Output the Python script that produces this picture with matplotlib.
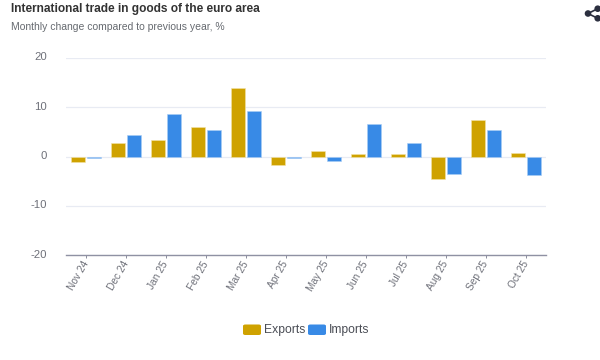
import matplotlib
matplotlib.use("Agg")
import matplotlib.pyplot as plt
import numpy as np
from matplotlib.lines import Line2D
from matplotlib.patches import Ellipse, FancyBboxPatch
from matplotlib.transforms import ScaledTranslation

months = ["Nov 24", "Dec 24", "Jan 25", "Feb 25", "Mar 25", "Apr 25",
          "May 25", "Jun 25", "Jul 25", "Aug 25", "Sep 25", "Oct 25"]
exports = [-1.2, 2.8, 3.3, 6.0, 13.9, -1.7, 1.1, 0.6, 0.5, -4.6, 7.4, 0.8]
imports = [-0.3, 4.4, 8.6, 5.4, 9.2, -0.3, -0.9, 6.7, 2.7, -3.6, 5.4, -3.8]
y_ticks = [-20, -10, 0, 10, 20]

GOLD = "#cfa200"
BLUE = "#388ae6"
W, H = 600, 360

plt.rcParams["font.family"] = ["Liberation Sans", "DejaVu Sans"]
plt.rcParams["axes.unicode_minus"] = False

fig = plt.figure(figsize=(W / 100, H / 100), dpi=100)
ax = fig.add_axes([66 / W, 1 - 255 / H, 480 / W, 197 / H])

x = np.arange(len(months))
bar_w = 0.335
ax.bar(x - 0.2, exports, bar_w, color=GOLD, edgecolor="#f3e3a8", linewidth=0.4, zorder=3)
ax.bar(x + 0.2, imports, bar_w, color=BLUE, edgecolor="#a9cdf5", linewidth=0.4, zorder=3)

ax.set_xlim(-0.5, len(months) - 0.5)
ax.set_ylim(-20, 20)
ax.set_yticks(y_ticks)
ax.set_xticks(x)
ax.set_xticklabels(months, rotation=60, ha="right", va="center", rotation_mode="anchor",
                   fontsize=7.3, color="#6e7079")
ax.tick_params(axis="x", length=2.5, width=0.7, color="#8a8d9c", pad=2.5)
ax.tick_params(axis="y", length=0, labelsize=8.2, labelcolor="#6e7079", pad=13.5)
# y labels sit a little above their grid lines in the original
for lab in ax.get_yticklabels():
    lab.set_transform(lab.get_transform() + ScaledTranslation(0, 1.5 / 100, fig.dpi_scale_trans))
ax.grid(axis="y", color="#e8ebf3", linewidth=0.9, zorder=0)
ax.set_axisbelow(True)
for side in ["top", "right", "left"]:
    ax.spines[side].set_visible(False)
ax.spines["bottom"].set_color("#8f91a3")
ax.spines["bottom"].set_linewidth(1.0)

fig.text(11 / W, 1 - 9 / H, "International trade in goods of the euro area",
         fontsize=8.55, fontweight="bold", color="#333333", va="center")
fig.text(11 / W, 1 - 26.5 / H, "Monthly change compared to previous year, %",
         fontsize=7.45, color="#666a70", va="center")

# legend
for lx, color, label in [(243, GOLD, "Exports"), (308, BLUE, "Imports")]:
    fig.add_artist(FancyBboxPatch((lx / W, 1 - 335 / H), 18 / W, 10.5 / H,
                                  boxstyle="round,pad=0,rounding_size=0.004",
                                  transform=fig.transFigure, facecolor=color,
                                  edgecolor="none"))
    fig.text((lx + 21) / W, 1 - 329.5 / H, label, fontsize=8.7,
             color="#4a4d55", va="center")

# share icon
dark = "#2b2f3f"
pts = [(588, 13.5), (597.7, 8.7), (597.7, 18.3)]
for a, b in [(pts[0], pts[1]), (pts[0], pts[2])]:
    fig.add_artist(Line2D([a[0] / W, b[0] / W], [1 - a[1] / H, 1 - b[1] / H],
                          color=dark, linewidth=1.2, transform=fig.transFigure))
for px, py in pts:
    fig.add_artist(Ellipse((px / W, 1 - py / H), 5.2 / W, 5.2 / H,
                           transform=fig.transFigure, color=dark))

fig.savefig("out.png", dpi=100)
